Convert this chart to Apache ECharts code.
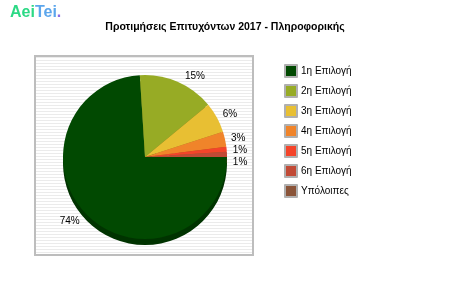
<!DOCTYPE html>
<html>
<head>
<meta charset="utf-8">
<script src="https://cdn.jsdelivr.net/npm/echarts@6/dist/echarts.min.js"></script>
<style>
  html, body { margin: 0; padding: 0; background: #fff; }
  #chart { width: 450px; height: 300px; }
</style>
</head>
<body>
<div id="chart"></div>
<script>
// choices and their share of successful candidates (%)
const categories = ['1η Επιλογή', '2η Επιλογή', '3η Επιλογή', '4η Επιλογή', '5η Επιλογή', '6η Επιλογή', 'Υπόλοιπες'];
const values = [74, 15, 6, 3, 1, 1, 0];
const colors = ['#014901', '#97ab25', '#e8bf33', '#f0842a', '#f4442a', '#c14a36', '#8a5439'];
const shadowColors = ['#003300', '#5f6b17', '#9c8022', '#a4591c', '#a42d1c', '#822f23', '#5c3826'];

const font = 'Liberation Sans, Arial, sans-serif';

// striped background for the plot box
function stripes() {
  const c = document.createElement('canvas');
  c.width = 4; c.height = 3;
  const g = c.getContext('2d');
  g.fillStyle = '#ffffff';
  g.fillRect(0, 0, 4, 3);
  g.fillStyle = '#ebebeb';
  g.fillRect(0, 0, 4, 1);
  return c;
}

const chart = echarts.init(document.getElementById('chart'), null, { renderer: 'canvas' });

chart.setOption({
  animation: false,
  color: colors,
  graphic: [
    {
      type: 'rect', z: -10,
      shape: { x: 35, y: 56, width: 218, height: 199 },
      style: { fill: { image: stripes(), repeat: 'repeat' }, stroke: '#bdbdbd', lineWidth: 2 }
    },
    {
      type: 'text', left: 10, top: 5,
      style: {
        text: '{a|Aei}{b|Tei}{c|.}',
        rich: {
          a: { fill: '#2cd985', fontSize: 16, fontWeight: 'bold', fontFamily: font },
          b: { fill: '#5ca6ec', fontSize: 16, fontWeight: 'bold', fontFamily: font },
          c: { fill: '#8b6de6', fontSize: 16, fontWeight: 'bold', fontFamily: font }
        }
      }
    }
  ],
  title: {
    text: 'Προτιμήσεις Επιτυχόντων 2017 - Πληροφορικής',
    left: 'center', top: 17,
    textStyle: { fontSize: 10.5, fontWeight: 'bold', color: '#000', fontFamily: font }
  },
  legend: {
    orient: 'vertical',
    left: 279, top: 59,
    itemWidth: 12, itemHeight: 12, itemGap: 6,
    icon: 'rect',
    data: categories,
    itemStyle: { borderColor: '#b0b0b0', borderWidth: 2 },
    textStyle: { fontSize: 10, color: '#000', fontFamily: font, padding: [0, 0, 0, -1] }
  },
  series: [
    {
      // darker copy underneath gives the slight 3D edge
      type: 'pie', silent: true,
      center: [145, 163], radius: 82,
      startAngle: 0, clockwise: true,
      label: { show: false }, labelLine: { show: false },
      legendHoverLink: false,
      data: values.map((v, i) => ({ value: v, name: categories[i] + ' ', itemStyle: { color: shadowColors[i] } }))
    },
    {
      type: 'pie',
      center: [145, 157], radius: 82,
      startAngle: 0, clockwise: true,
      avoidLabelOverlap: true,
      label: {
        show: true, position: 'outside',
        formatter: p => p.value > 0 ? p.value + '%' : '',
        fontSize: 10, color: '#000', fontFamily: font
      },
      labelLine: { show: false, length: 6, length2: 0 },
      data: values.map((v, i) => ({ value: v, name: categories[i] }))
    }
  ]
});
</script>
</body>
</html>
